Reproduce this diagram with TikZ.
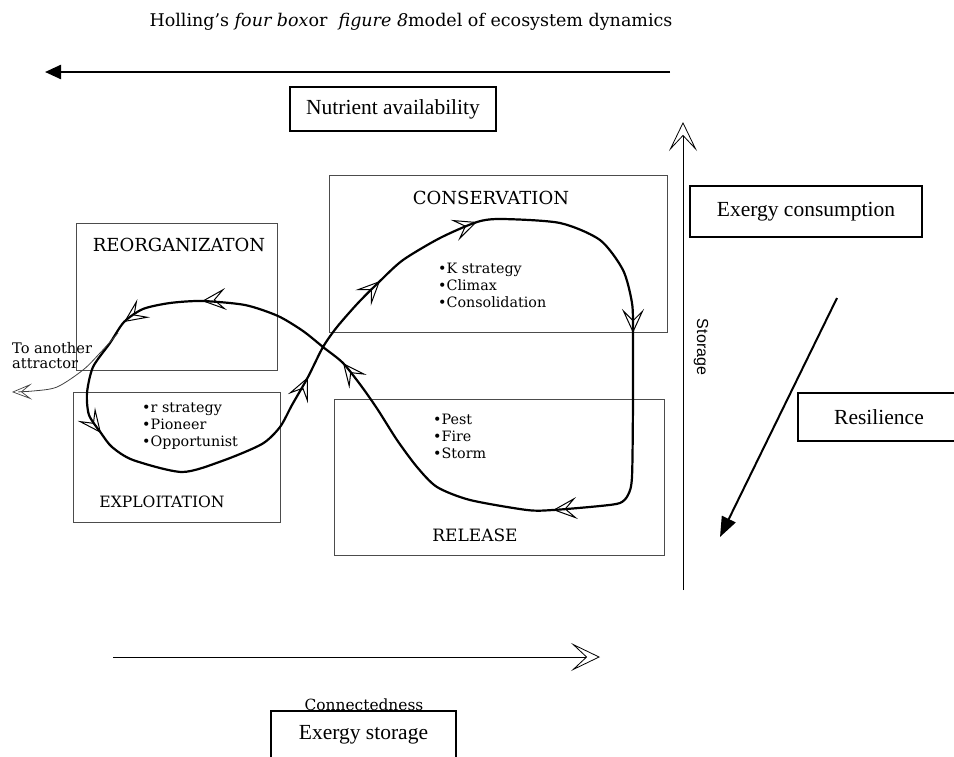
\documentclass[tikz,border=0pt]{standalone}
\usepackage{fontspec}
\setmainfont{DejaVu Serif}
\newfontfamily\timesfont{Liberation Serif}
\newfontfamily\arialfont{Liberation Sans}
\usetikzlibrary{arrows.meta}

\begin{document}
\begin{tikzpicture}[x=1pt,y=-1pt,
    quadbox/.style={draw=black!70, line width=0.9pt},
    quadname/.style={font=\fontsize{18}{20}\selectfont},
    tbox/.style={draw, line width=1.3pt, font=\timesfont\fontsize{21.5}{24}\selectfont},
    bullets/.style={align=left, anchor=north west, inner sep=0pt, font=\fontsize{14.3}{16.8}\selectfont},
    loopline/.style={line width=2.2pt, line join=round, line cap=round},
    midtip/.style={line width=0.8pt, -{Stealth[open, length=24pt, width=22pt, inset=11pt, line width=1pt]}},
    axistip/.style={line width=0.9pt, -{Stealth[open, length=29pt, width=28pt, inset=15pt, line width=0.8pt]}}]
\useasboundingbox (0,0) rectangle (954,756);

\node (title) at (411,22) {\fontsize{17.5}{20}\selectfont Holling's \textit{four box}or\ \ \textit{figure 8}model of ecosystem dynamics};

% four boxes
\node[quadbox, minimum width=338pt, minimum height=157pt] (cons) at (498,253.5) {};
\node[quadbox, minimum width=201pt, minimum height=147pt] (reorg) at (176.5,296.5) {};
\node[quadbox, minimum width=207pt, minimum height=130pt] (expl) at (176.5,457) {};
\node[quadbox, minimum width=330pt, minimum height=156pt] (rel) at (499,477) {};

\node[quadname] (consname) at (491,198) {CONSERVATION};
\node[quadname] (reorgname) at (179,245) {REORGANIZATON};
\node[quadname, font=\fontsize{15.6}{18}\selectfont] (explname) at (162,502) {EXPLOITATION};
\node[quadname, font=\fontsize{17}{20}\selectfont] (relname) at (475,535) {RELEASE};

\node[bullets] (consitems) at (438,263) {•K strategy\\•Climax\\•Consolidation};
\node[bullets] (explitems) at (142,403) {•r strategy\\•Pioneer\\•Opportunist};
\node[bullets] (relitems) at (433,414) {•Pest\\•Fire\\•Storm};

% figure 8 loop
\draw[loopline] plot[smooth cycle, tension=0.45] coordinates {
  (101,433) (112,447) (133,460) (182,472) (222,461) (262,444) (280,427)
  (292,405) (308,377) (323,347) (337,327) (358,303) (380,281) (403,260)
  (440,238) (477,222) (502,219) (560,223) (600,240) (623,270) (632,303)
  (633,333) (633,400) (632,477) (628,495) (620,503) (600,506) (553,510)
  (527,510) (470,500) (437,487) (417,467) (397,440) (378,410) (362,387)
  (343,363) (323,347) (303,331) (278,316) (245,305) (202,301) (170,303)
  (143,309) (124,322) (110,343) (93,367) (87,393) (89,415)};

\draw[midtip] (214,300) -- (202,301);
\draw[midtip] (134,315) -- (124,322);
\draw[midtip] (94,424) -- (101,433);
\draw[midtip] (302,390) -- (308,377);
\draw[midtip] (371,290) -- (380,281);
\draw[midtip] (466,226) -- (477,222);
\draw[midtip] (633,321) -- (633,333);
\draw[midtip] (565,509) -- (553,510);
\draw[midtip] (351,373) -- (343,363);

% to another attractor
\node[align=left, anchor=west, inner sep=0pt, font=\fontsize{14.6}{15}\selectfont] (attr) at (12,356) {To another\\attractor};
\draw[black!75, line width=0.8pt, -{Stealth[open, length=20pt, width=16pt, inset=10pt, line width=0.7pt]}]
  plot[smooth, tension=0.5] coordinates {(118,333) (100,353) (83,370) (57,387) (33,391) (12,392)};

% axes and side boxes
\draw[line width=2.4pt, -{Triangle[length=16pt, width=14pt]}] (670,72) -- (45,72);
\node[tbox, minimum width=206pt, minimum height=44pt] (nutr) at (393,109) {Nutrient availability};

\coordinate (vbot) at (683,590);
\coordinate (vtop) at (683,122);
\draw[axistip] (vbot) -- (vtop);
\node[rotate=-90, font=\arialfont\fontsize{16}{18}\selectfont] (stor) at (701,347) {Storage};

\node[tbox, minimum width=232pt, minimum height=51pt] (excons) at (806,211.5) {Exergy consumption};
\node[tbox, minimum width=162pt, minimum height=48pt] (resil) at (879,417) {Resilience};

\coordinate (dstart) at (837,298);
\coordinate (dend) at (720,537);
\draw[line width=2pt, -{Triangle[length=20pt, width=15pt]}] (dstart) -- (dend);

\coordinate (hstart) at (113,657);
\coordinate (hend) at (600,657);
\draw[axistip] (hstart) -- (hend);
\node[font=\fontsize{15.4}{17}\selectfont] (conn) at (364,705) {Connectedness};
\node[tbox, minimum width=185pt, minimum height=48pt] (exstor) at (363.5,735) {Exergy storage};

\end{tikzpicture}
\end{document}
